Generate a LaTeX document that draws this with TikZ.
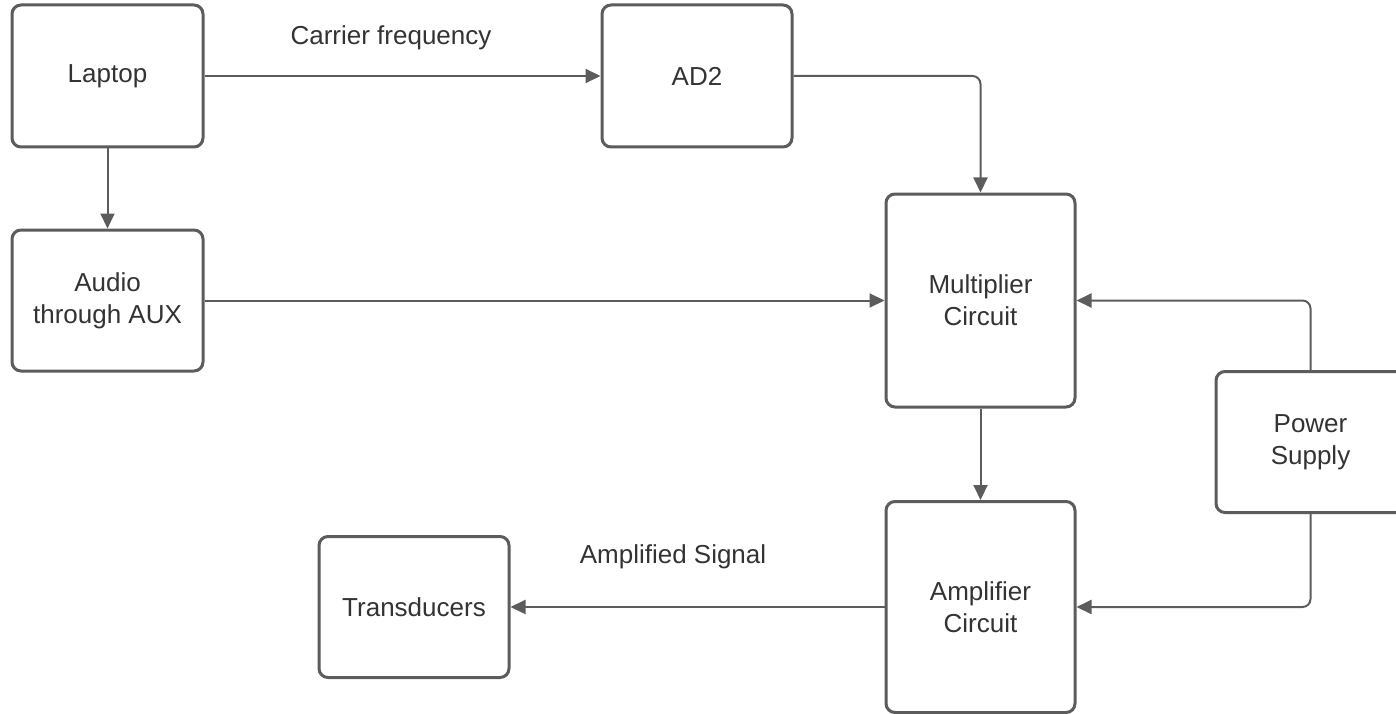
\documentclass[tikz,border=0pt]{standalone}
\usepackage{fontspec}
\setmainfont{Liberation Sans}
\usetikzlibrary{arrows.meta}
\definecolor{ln}{HTML}{5C5C5C}
\definecolor{tx}{HTML}{333333}
\begin{document}
\begin{tikzpicture}[x=1pt,y=-1pt,
  blk/.style={draw=ln,line width=3pt,rounded corners=9pt,fill=white,align=center,
    text=tx,font=\fontsize{26}{32}\selectfont,inner sep=0pt},
  conn/.style={draw=ln,line width=2pt,rounded corners=8pt,
    -{Triangle[length=15pt,width=14pt]}},
  lbl/.style={text=tx,font=\fontsize{26}{32}\selectfont,inner sep=0pt}]
\useasboundingbox (0,0) rectangle (1396,714);
\node[blk,minimum width=191pt,minimum height=142pt] (lap) at (107.5,76) {Laptop};
\node[blk,minimum width=190pt,minimum height=142pt] (ad2) at (697,76) {AD2};
\node[blk,minimum width=191pt,minimum height=141pt] (aud) at (107.5,300.5) {Audio\\through AUX};
\node[blk,minimum width=189pt,minimum height=213pt] (mul) at (980.5,300.5) {Multiplier\\Circuit};
\node[blk,minimum width=189pt,minimum height=211pt] (amp) at (980.5,607) {Amplifier\\Circuit};
\node[blk,minimum width=190pt,minimum height=141pt] (tra) at (414,607) {Transducers};
\node[blk,minimum width=189pt,minimum height=141pt] (pow) at (1310.5,442) {Power\\Supply};
\node[lbl] (cf) at (391,38) {Carrier frequency};
\node[lbl] (as) at (673,557) {Amplified Signal};
\draw[conn] (lap.east) -- (ad2.west);
\draw[conn] (ad2.east) -| (mul.north);
\draw[conn] (lap.south) -- (aud.north);
\draw[conn] (aud.east) -- (mul.west);
\draw[conn] (mul.south) -- (amp.north);
\draw[conn] (pow.north) |- (mul.east);
\draw[conn] (pow.south) |- (amp.east);
\draw[conn] (amp.west) -- (tra.east);
\end{tikzpicture}
\end{document}
